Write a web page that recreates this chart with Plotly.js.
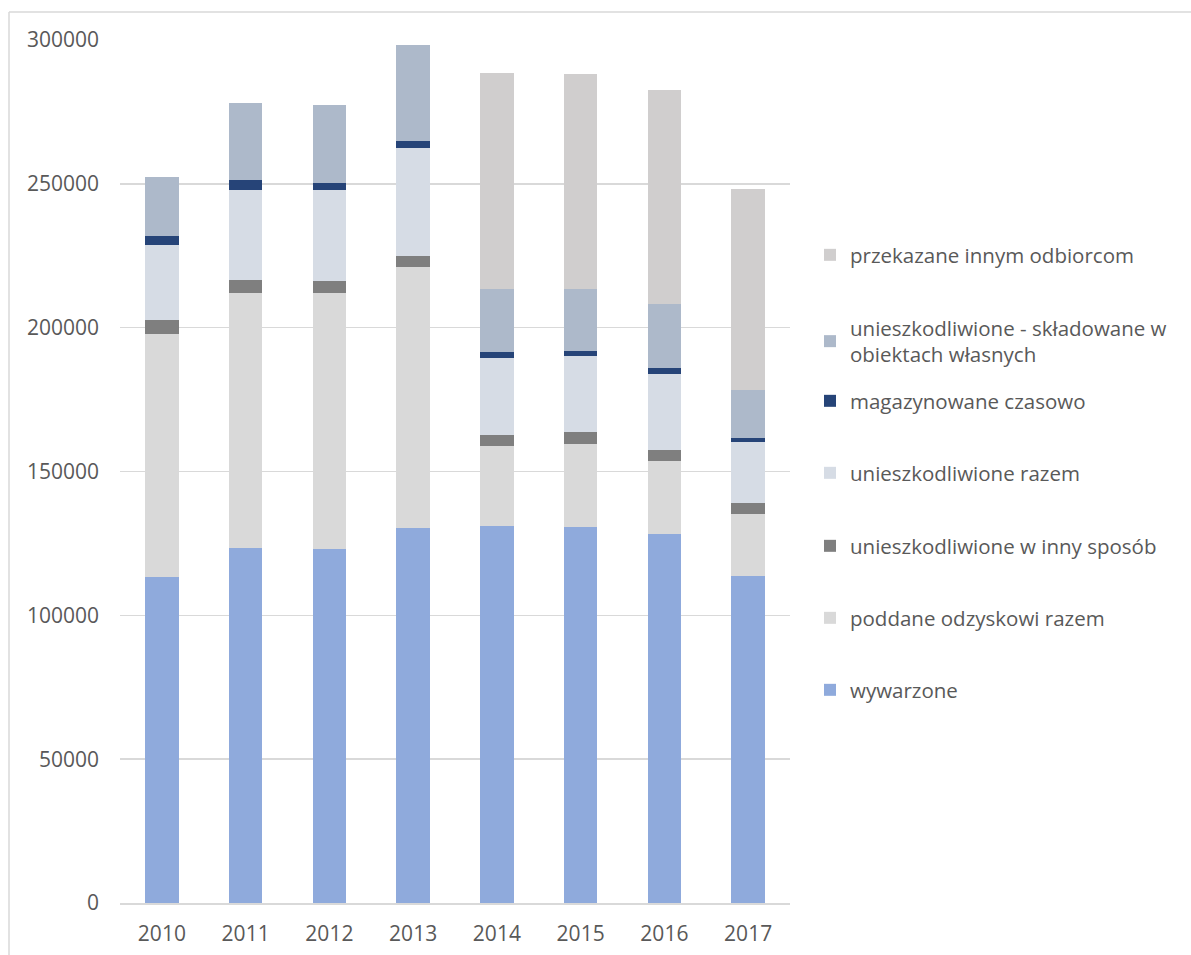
<!DOCTYPE html>
<html>
<head>
<meta charset="utf-8">
<script src="https://cdn.plot.ly/plotly-3.0.1.min.js"></script>
<style>html,body{margin:0;padding:0;background:#fff;}#chart{width:1191px;height:955px;}</style>
</head>
<body>
<div id="chart"></div>
<script>
const years = ['2010','2011','2012','2013','2014','2015','2016','2017'];
const wywarzone = [113400, 123500, 123100, 130500, 131200, 130800, 128300, 113700];
const poddaneOdzyskowi = [84400, 88700, 89000, 90700, 27700, 28900, 25400, 21700];
const unieszkInnySposob = [4800, 4400, 4200, 3700, 3800, 4100, 3700, 3700];
const unieszkRazem = [26000, 31400, 31500, 37500, 26700, 26400, 26400, 21100];
const magazynowane = [3100, 3400, 2600, 2400, 2200, 1700, 2200, 1300];
const skladowane = [20800, 26800, 27000, 33400, 21900, 21700, 22100, 16800];
const przekazane = [null, null, null, null, 75200, 74500, 74600, 70000];

const seriesNames = [
  'wywarzone',
  'poddane odzyskowi razem',
  'unieszkodliwione w inny sposób',
  'unieszkodliwione razem',
  'magazynowane czasowo',
  'unieszkodliwione - składowane w<br>obiektach własnych',
  'przekazane innym odbiorcom'
];
const seriesValues = [wywarzone, poddaneOdzyskowi, unieszkInnySposob, unieszkRazem, magazynowane, skladowane, przekazane];
const colors = ['#8FAADC', '#D9D9D9', '#7F7F7F', '#D6DCE5', '#264478', '#ADB9CA', '#D0CECE'];
// legend centre positions (pixel y in the picture)
const legendPixY = [690, 618, 546, 473, 401, 341.5, 255];

const plotTop = 40, plotBottom = 903, plotLeft = 120, plotRight = 790;
const plotH = plotBottom - plotTop, plotW = plotRight - plotLeft;

const traces = seriesValues.map((vals, i) => ({
  type: 'bar',
  name: seriesNames[i],
  x: years,
  y: vals,
  marker: {color: colors[i], line: {width: 0}},
  legend: i === 0 ? 'legend' : 'legend' + (i + 1),
  hoverinfo: 'x+y+name'
}));

const legendFont = {family: 'Open Sans, sans-serif', size: 20.5, color: '#595959'};
const tickFont = {family: 'Open Sans, sans-serif', size: 21, color: '#595959'};
const layout = {
  width: 1191, height: 955,
  margin: {l: plotLeft, r: 1191 - plotRight, t: plotTop, b: 955 - plotBottom, pad: 0},
  paper_bgcolor: '#ffffff', plot_bgcolor: '#ffffff',
  barmode: 'stack',
  bargap: 0.6,
  font: {family: 'Open Sans, sans-serif', color: '#595959', size: 20},
  xaxis: {
    type: 'category',
    showgrid: false,
    showline: true, linecolor: '#D9D9D9', linewidth: 1.5,
    ticks: '', ticklabelstandoff: 11,
    tickfont: tickFont,
    fixedrange: true
  },
  yaxis: {
    range: [0, 300000], dtick: 50000, tick0: 0,
    tickformat: 'd',
    showgrid: true, gridcolor: '#D9D9D9', gridwidth: 1.5,
    zeroline: false, showline: false,
    ticks: '', ticklabelstandoff: 20,
    tickfont: tickFont,
    fixedrange: true
  },
  shapes: [
    {type: 'line', xref: 'paper', yref: 'paper',
     x0: (9 - plotLeft) / plotW, x1: (9 - plotLeft) / plotW,
     y0: (plotBottom - 960) / plotH, y1: (plotBottom - 12) / plotH,
     line: {color: '#D9D9D9', width: 1.5}},
    {type: 'line', xref: 'paper', yref: 'paper',
     x0: (9 - plotLeft) / plotW, x1: (1200 - plotLeft) / plotW,
     y0: (plotBottom - 12) / plotH, y1: (plotBottom - 12) / plotH,
     line: {color: '#D9D9D9', width: 1.5}}
  ],
  showlegend: true
};

legendPixY.forEach((py, i) => {
  const key = i === 0 ? 'legend' : 'legend' + (i + 1);
  layout[key] = {
    x: (810 - plotLeft) / plotW,
    xanchor: 'left',
    y: (plotBottom - py) / plotH,
    yanchor: 'middle',
    bgcolor: 'rgba(0,0,0,0)',
    borderwidth: 0,
    font: legendFont,
    itemclick: false, itemdoubleclick: false
  };
});

Plotly.newPlot('chart', traces, layout, {displayModeBar: false, staticPlot: true});
</script>
</body>
</html>
